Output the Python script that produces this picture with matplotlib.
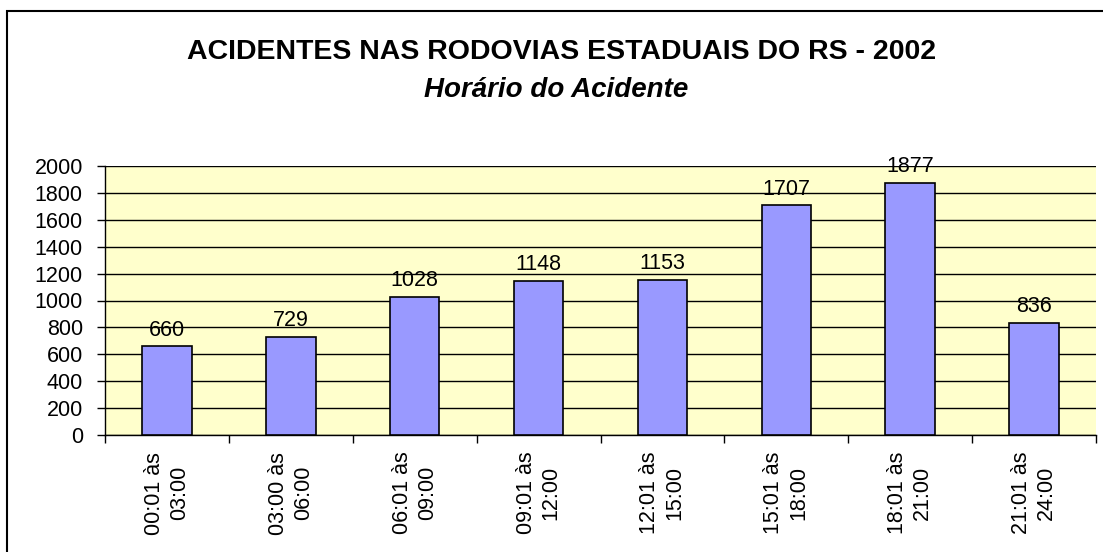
import matplotlib.pyplot as plt
from matplotlib.patches import Rectangle

categories = ['00:01 às\n03:00', '03:00 às\n06:00', '06:01 às\n09:00', '09:01 às\n12:00',
              '12:01 às\n15:00', '15:01 às\n18:00', '18:01 às\n21:00', '21:01 às\n24:00']
acidentes = [660, 729, 1028, 1148, 1153, 1707, 1877, 836]
y_ticks = list(range(0, 2001, 200))

plt.rcParams['font.family'] = ['Liberation Sans', 'DejaVu Sans']

fig = plt.figure(figsize=(11.03, 5.52), dpi=100)
W, H = 1103, 552

# outer chart border (runs off the right/bottom edge like in the source)
fig.patches.append(Rectangle((7 / W, -0.1), 1.2, 1 - 11 / H + 0.1,
                             transform=fig.transFigure, fill=False,
                             edgecolor='black', linewidth=1.5))

ax = fig.add_axes([105 / W, 1 - 435 / H, (1096 - 105) / W, (435 - 166) / H])
ax.set_facecolor('#ffffcc')

x = range(len(categories))
ax.bar(x, acidentes, width=0.4, color='#9999ff', edgecolor='black', linewidth=1.2, zorder=3)
for xi, v in zip(x, acidentes):
    ax.annotate(str(v), (xi, v), xytext=(0, 4), textcoords='offset points',
                ha='center', va='bottom', fontsize=15.5)

ax.set_xlim(-0.5, len(categories) - 0.5)
ax.set_ylim(0, 2000)
ax.set_yticks(y_ticks)
ax.tick_params(axis='y', labelsize=15.5, length=6, width=1, pad=10)
ax.yaxis.grid(True, color='black', linewidth=1, zorder=0)

ax.set_xticks([i - 0.5 for i in range(len(categories) + 1)])
ax.set_xticklabels([])
ax.set_xticks(list(x), minor=True)
ax.set_xticklabels(categories, minor=True, rotation=90, fontsize=15.5,
                   ha='center', va='top', linespacing=1.25, multialignment='center')
ax.tick_params(axis='x', which='major', length=6, width=1)
ax.tick_params(axis='x', which='minor', length=0, pad=12)

for side in ['top', 'right']:
    ax.spines[side].set_visible(False)
ax.spines['left'].set_linewidth(1)
ax.spines['bottom'].set_linewidth(1)

fig.text(562 / W, 1 - 52 / H, 'ACIDENTES NAS RODOVIAS ESTADUAIS DO RS - 2002',
         ha='center', va='center', fontsize=20.5, fontweight='bold')
fig.text(556 / W, 1 - 90 / H, 'Horário do Acidente', ha='center', va='center',
         fontsize=20, fontweight='bold', style='italic')

fig.savefig('out.png', dpi=100)
